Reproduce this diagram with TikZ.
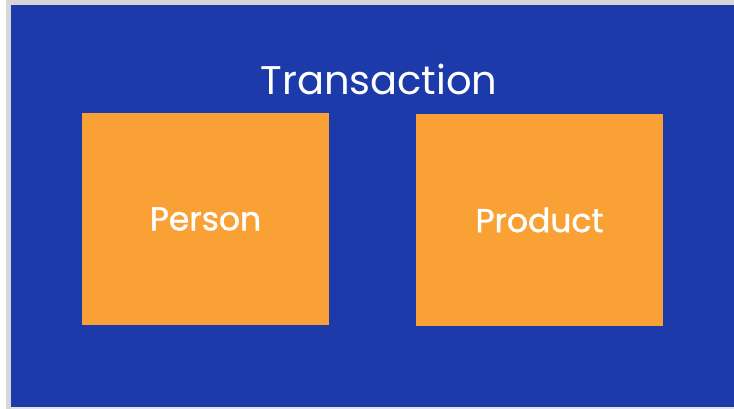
\documentclass[tikz,border=0pt]{standalone}
\usepackage{fontspec}
\setmainfont{Poppins}
\newfontfamily\boxfont[FakeBold=1.2]{Poppins}
\definecolor{bgblue}{HTML}{1C3AA9}
\definecolor{boxorange}{HTML}{F9A134}
\definecolor{framegray}{HTML}{D6D6D6}
\begin{document}
\begin{tikzpicture}[x=1pt,y=-1pt,
  entity/.style={fill=boxorange,draw=none,minimum width=247pt,minimum height=212pt,inner sep=0pt,
     text=white,font=\boxfont\fontsize{33}{40}\selectfont},
  title/.style={text=white,font=\fontsize{40}{48}\selectfont,inner sep=0pt}]
\useasboundingbox (0,0) rectangle (734,409);
\fill[white] (0,0) rectangle (734,409);
\fill[framegray] (6,0) rectangle (734,409);
\fill[bgblue] (11,5) rectangle (734,407);
\fill[framegray!70] (11,407) rectangle (734,409);
\node[title] (t) at (379,79) {Transaction};
\node[entity] (person) at (205.5,219) {Person};
\node[entity] (product) at (539.5,220) {Product};
\end{tikzpicture}
\end{document}
